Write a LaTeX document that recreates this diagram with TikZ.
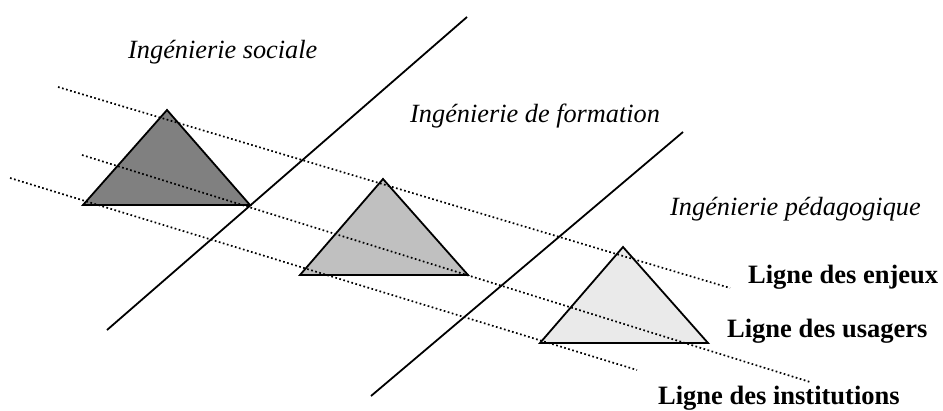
\documentclass[tikz,border=0pt]{standalone}
\usepackage{fontspec}
\setmainfont{Liberation Serif}
\begin{document}
\begin{tikzpicture}[x=1pt,y=-1pt,
  tri/.style={draw=black,line width=1.8pt,line join=miter},
  guide/.style={line width=1.7pt,dash pattern=on 1.7pt off 2.5pt},
  axis/.style={line width=1.8pt},
  ital/.style={anchor=base west,inner sep=0pt,font=\fontsize{26.3}{30}\selectfont\itshape},
  lbl/.style={anchor=base west,inner sep=0pt,font=\fontsize{26.5}{30}\selectfont\bfseries}]
\useasboundingbox (0,0) rectangle (943,410);
% triangles
\coordinate (a1) at (167,110); \coordinate (b1) at (83,205); \coordinate (c1) at (250,205);
\coordinate (a2) at (383,179); \coordinate (b2) at (300,275); \coordinate (c2) at (468,275);
\coordinate (a3) at (623,247); \coordinate (b3) at (540,343); \coordinate (c3) at (708,343);
\filldraw[tri,fill={rgb,255:red,128;green,128;blue,128}] (a1) -- (b1) -- (c1) -- cycle;
\filldraw[tri,fill={rgb,255:red,192;green,192;blue,192}] (a2) -- (b2) -- (c2) -- cycle;
\filldraw[tri,fill={rgb,255:red,234;green,234;blue,234}] (a3) -- (b3) -- (c3) -- cycle;
% dotted guide lines
\coordinate (e0) at (58,87);  \coordinate (e1) at (730,288);
\coordinate (u0) at (82,155); \coordinate (u1) at (810,382);
\coordinate (i0) at (10,178); \coordinate (i1) at (637,370);
\draw[guide] (e0) -- (e1);
\draw[guide] (u0) -- (u1);
\draw[guide] (i0) -- (i1);
% solid separators
\coordinate (s0) at (107,330); \coordinate (s1) at (467,17);
\coordinate (f0) at (371,396); \coordinate (f1) at (683,132);
\draw[axis] (s0) -- (s1);
\draw[axis] (f0) -- (f1);
% labels
\node[ital] (soc) at (128,58) {Ingénierie sociale};
\node[ital] (form) at (410,122) {Ingénierie de formation};
\node[ital] (ped) at (670,215) {Ingénierie pédagogique};
\node[lbl] (enj) at (748,283) {Ligne des enjeux};
\node[lbl] (usa) at (727,337) {Ligne des usagers};
\node[lbl] (ins) at (658,404) {Ligne des institutions};
\end{tikzpicture}
\end{document}
